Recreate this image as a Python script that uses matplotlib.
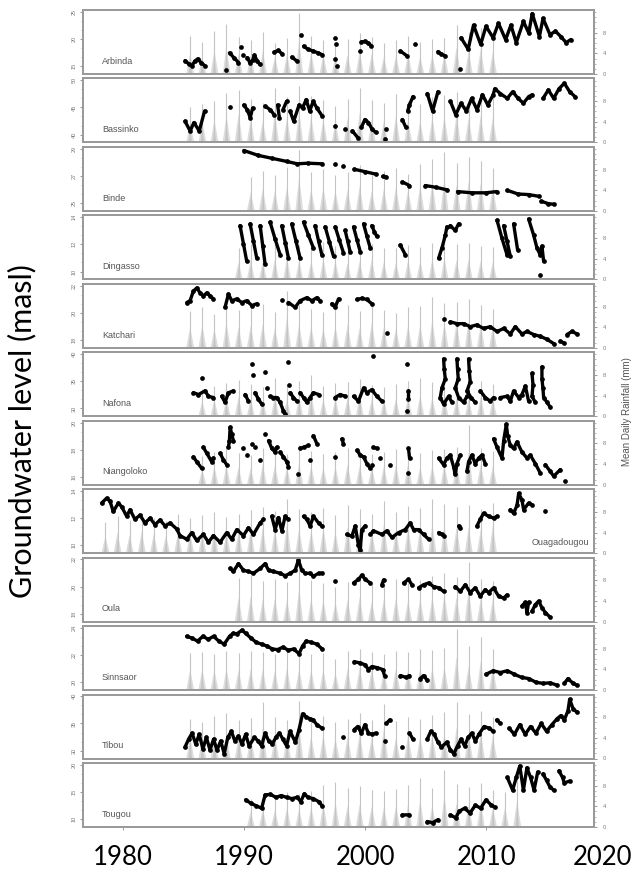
import numpy as np
import matplotlib.pyplot as plt
from matplotlib.ticker import FixedLocator, MultipleLocator
import matplotlib.transforms as mtransforms

plt.rcParams['font.family'] = ['Liberation Sans', 'DejaVu Sans']

nan = np.nan

stations = ['Arbinda', 'Bassinko', 'Binde', 'Dingasso', 'Katchari', 'Nafona',
            'Niangoloko', 'Ouagadougou', 'Oula', 'Sinnsaor', 'Tibou', 'Tougou']

# groundwater level, relative to panel range (0 = bottom, 10 = top); nan breaks a record
arbinda_yr = [1985.13, 1985.42, 1985.71, 1985.92, 1986.16, 1986.45, 1986.74, nan,
              1988.51, nan, 1988.8, 1989.16, 1989.54, nan, 1989.75, nan, 1989.9, nan,
              1990.27, 1990.5, 1990.71, 1990.86, 1991.1, 1991.3, nan,
              1992.48, 1992.83, 1993.16, nan, 1993.95, 1994.39, nan, 1994.68, nan,
              1994.92, 1995.27, 1995.71, 1996.1, 1996.45, nan,
              1997.48, nan, 1997.6, nan, 1997.55, nan, 1997.65, nan, 1999.54, nan,
              1999.69, 1999.98, 2000.27, 2000.5, nan, 2002.92, 2003.45, nan, 2004.1, nan,
              2006.01, 2006.3, 2006.6, nan, 2007.86, nan,
              2007.92, 2008.51, 2008.95, 2009.54, 2009.98, 2010.57, 2011.01, 2011.6, 2012.04, 2012.48,
              2013.07, 2013.51, 2013.8, 2014.39, 2014.69, 2015.27, 2015.71, 2016.16, 2016.6, 2016.98]
arbinda_lv = [1.9, 1.4, 1.1, 1.8, 2.2, 1.6, 1.1, nan,
              0.4, nan, 3.2, 2.4, 1.6, nan, 4.2, nan, 2.9, nan,
              2.4, 1.5, 2.0, 2.8, 1.8, 1.3, nan,
              3.3, 3.6, 3.0, nan, 2.5, 1.8, nan, 6.2, nan,
              4.3, 3.8, 3.5, 3.2, 2.9, nan,
              5.7, nan, 4.6, nan, 2.2, nan, 1.1, nan, 3.5, nan,
              5.0, 5.1, 4.8, 4.4, nan, 3.5, 2.7, nan, 4.7, nan,
              3.4, 3.0, 2.7, nan, 0.5, nan,
              5.7, 3.8, 7.8, 4.6, 7.6, 5.7, 8.1, 5.4, 7.8, 4.9,
              8.4, 6.5, 9.7, 5.9, 8.9, 6.2, 6.8, 5.9, 4.9, 5.4]

bassinko_yr = [1985.13, 1985.55, 1985.86, 1986.3, 1986.74, nan, 1988.8, nan,
               1989.98, 1990.27, 1990.51, 1990.71, nan,
               1991.74, 1992.18, 1992.48, nan, 1992.77, 1992.92, nan, 1993.21, 1993.51, nan,
               1993.8, 1994.1, 1994.54, 1994.83, 1995.13, 1995.42, 1995.71, 1996.01, 1996.45, nan,
               1997.48, nan, 1998.36, nan, 1998.95, 1999.39, nan,
               1999.69, 1999.98, 2000.27, 2000.57, 2000.86, nan, 2001.6, nan, 2001.74, nan,
               2003.07, 2003.36, nan, 2003.51, 2003.66, 2003.95, nan,
               2005.13, 2005.57, 2006.01, nan,
               2007.04, 2007.48, 2007.92, 2008.36, 2008.8, 2009.24, 2009.69, 2010.13, 2010.57, 2010.71,
               2011.16, 2011.74, 2012.18, 2012.63, 2013.07, 2013.51, 2013.8, nan,
               2014.69, 2015.13, 2015.57, 2016.01, 2016.45, 2016.89, 2017.33]
bassinko_lv = [3.2, 1.6, 3.0, 1.6, 4.9, nan, 5.5, nan,
               5.9, 5.1, 3.8, 5.4, nan,
               5.7, 5.1, 4.3, nan, 5.9, 3.8, nan, 5.1, 6.5, nan,
               4.9, 3.2, 5.9, 5.4, 6.8, 4.9, 6.5, 5.4, 4.1, nan,
               2.4, nan, 1.9, nan, 1.6, 0.5, nan,
               2.2, 3.5, 3.0, 1.9, 1.4, nan, 0.3, nan, 1.9, nan,
               3.5, 2.2, nan, 4.9, 5.9, 7.3, nan,
               7.8, 4.9, 8.1, nan,
               6.5, 4.3, 6.2, 4.9, 7.0, 5.1, 7.6, 5.9, 7.6, 8.6,
               7.8, 7.0, 8.1, 7.0, 6.2, 7.3, 7.6, nan,
               7.0, 8.4, 7.0, 8.6, 9.5, 8.1, 7.3]

binde_yr = [1989.98, 1991.16, 1992.33, 1993.51, 1994.39, 1995.27, 1996.45, nan,
            1997.48, nan, 1998.21, nan, 1999.1, 1999.98, 2000.86, nan, 2001.45, 2001.74, nan,
            2003.07, 2003.66, nan, 2004.98, 2005.86, 2006.74, nan,
            2007.63, 2008.8, 2009.98, 2010.86, nan, 2011.74, 2012.63, 2013.51, 2014.39, nan,
            2014.54, 2015.13, 2015.57]
binde_lv = [9.7, 8.9, 8.4, 7.9, 7.5, 7.6, 7.5, nan,
            7.4, nan, 7.1, nan, 6.6, 6.2, 5.8, nan, 5.4, 5.3, nan,
            4.5, 3.9, nan, 3.9, 3.6, 3.2, nan,
            2.9, 2.7, 2.7, 2.9, nan, 3.1, 2.5, 2.4, 2.1, nan,
            1.3, 0.9, 0.8]

dingasso_yr = [1989.67, 1989.95, 1990.22, nan, 1990.5, 1990.78, 1991.05, nan, 1991.33, 1991.54, 1991.74, nan,
               1992.15, 1992.56, 1992.98, nan, 1993.12, 1993.4, 1993.67, nan, 1993.94, 1994.28, 1994.63, nan,
               1994.91, 1995.32, 1995.73, nan, 1995.87, 1996.15, 1996.42, nan, 1996.7, 1997.05, 1997.39, nan,
               1997.53, 1997.87, 1998.21, nan, 1998.35, 1998.56, 1998.76, nan, 1999.04, 1999.32, 1999.59, nan,
               1999.87, 2000.15, 2000.42, nan, 2000.55, 2000.76, 2000.97, nan, 2002.9, 2003.31, nan,
               2006.07, 2006.34, 2006.62, 2006.75, nan, 2007.03, 2007.44, 2007.72, nan,
               2010.89, 2011.3, 2011.71, nan, 2011.44, 2011.72, 2011.99, nan, 2012.26, 2012.59, nan,
               2013.5, 2013.92, 2014.19, 2014.45, 2014.6, 2014.74, nan, 2014.47]
dingasso_lv = [8.6, 5.6, 2.7, nan, 8.9, 6.0, 3.2, nan, 8.6, 5.3, 2.2, nan,
               9.2, 6.4, 3.8, nan, 8.6, 5.8, 3.2, nan, 8.9, 6.1, 3.2, nan,
               9.2, 7.0, 4.9, nan, 8.6, 6.1, 3.8, nan, 8.4, 5.9, 3.5, nan,
               8.4, 6.2, 4.1, nan, 7.8, 6.0, 4.3, nan, 8.4, 6.3, 4.3, nan,
               8.9, 6.8, 4.9, nan, 8.6, 7.6, 6.8, nan, 5.4, 3.8, nan,
               3.2, 4.9, 7.0, 8.4, nan, 8.6, 7.8, 8.9, nan,
               9.5, 6.5, 3.8, nan, 8.6, 6.0, 3.5, nan, 8.9, 4.6, nan,
               9.7, 7.0, 4.9, 3.8, 5.2, 2.7, nan, 0.5]

katchari_yr = [1985.27, 1985.54, 1985.82, 1986.09, 1986.37, 1986.64, 1986.92, 1987.19, 1987.47, nan,
               1988.43, 1988.71, 1988.98, 1989.4, 1989.81, 1990.22, 1990.64, 1991.05, nan,
               1993.12, nan, 1993.67, 1994.22, 1994.63, 1995.18, 1995.6, 1996.01, 1996.28, nan,
               1997.25, 1997.52, 1997.8, nan, 1999.32, 1999.73, 2000.14, 2000.55, nan,
               2001.79, nan, 2006.48, nan,
               2007.03, 2007.58, 2008.13, 2008.68, 2009.23, 2009.78, 2010.33, 2010.89, 2011.44,
               2011.99, 2012.4, 2012.95, 2013.37, 2013.92, 2014.47, 2015.02, 2015.57, nan,
               2016.12, 2016.4, nan, 2016.67, 2017.08, 2017.5]
katchari_lv = [7.2, 7.5, 9.1, 9.6, 8.8, 8.3, 8.8, 8.3, 7.8, nan,
               6.4, 8.6, 7.5, 7.8, 7.2, 7.5, 6.7, 7.0, nan,
               7.6, nan, 7.2, 6.4, 7.5, 8.0, 7.5, 8.0, 7.5, nan,
               7.0, 6.4, 7.8, nan, 7.7, 7.9, 7.7, 7.0, nan,
               2.1, nan, 4.5, nan,
               4.0, 3.7, 3.7, 3.2, 3.5, 2.9, 3.2, 2.4, 2.9,
               2.0, 3.2, 2.0, 2.4, 1.9, 1.6, 1.1, 0.4, nan,
               0.8, 0.5, nan, 1.9, 2.4, 2.0]

nafona_yr = [1985.82, 1986.23, 1986.78, 1987.06, 1987.47, nan, 1986.51, nan,
             1988.16, 1988.43, 1988.71, 1989.12, nan, 1990.09, 1990.36, nan,
             1990.64, nan, 1990.78, nan, 1990.91, 1991.19, 1991.46, nan,
             1991.74, nan, 1991.88, nan,
             1992.15, 1992.43, 1992.7, 1992.98, 1993.25, 1993.39, nan,
             1993.67, nan, 1993.75, nan, 1993.81, 1994.08, 1994.36, nan,
             1994.63, 1994.91, 1995.18, 1995.46, 1995.73, 1996.15, nan,
             1997.52, 1997.94, 1998.35, nan,
             1999.04, 1999.45, 1999.87, 2000.14, 2000.55, 2000.97, 2001.38, nan, 2000.69, nan,
             2003.45, nan, 2003.58, 2003.58, nan, 2003.45, nan,
             2006.48, 2006.53, 2006.62, 2006.34, 2006.2, 2006.48, 2006.89, 2007.17, nan,
             2007.58, 2007.63, 2007.69, 2007.44, 2007.72, 2008.13, 2008.41, nan,
             2008.54, 2008.6, 2008.68, 2008.41, 2008.74, 2009.09, nan,
             2009.51, 2009.92, 2010.33, 2010.61, nan,
             2011.16, 2011.71, 2011.99, 2012.26, 2012.68, 2012.95, 2013.23, 2013.5, nan,
             2013.78, 2013.86, 2013.78, 2014.05, nan,
             2014.6, 2014.6, 2014.68, 2014.74, 2015.02, 2015.29]
nafona_lv = [3.6, 3.3, 3.9, 3.0, 2.8, nan, 6.0, nan,
             3.0, 2.0, 3.6, 3.9, nan, 3.3, 2.2, nan,
             8.4, nan, 6.5, nan, 3.6, 2.5, 1.7, nan,
             7.1, nan, 4.4, nan,
             3.0, 2.8, 2.8, 2.0, 0.6, 0.1, nan,
             8.7, nan, 4.9, nan, 3.6, 2.8, 2.2, nan,
             3.6, 2.8, 2.0, 2.8, 3.6, 3.3, nan,
             2.8, 3.3, 3.0, nan,
             3.0, 2.2, 4.4, 3.6, 4.1, 3.0, 2.2, nan, 9.7, nan,
             8.4, nan, 3.9, 2.5, nan, 0.6, nan,
             9.2, 7.5, 5.9, 4.4, 2.8, 1.7, 3.0, 2.0, nan,
             9.2, 7.5, 5.9, 4.4, 2.8, 2.0, 3.0, nan,
             9.2, 7.2, 5.4, 3.9, 2.8, 2.0, nan,
             3.9, 2.8, 2.2, 2.8, nan,
             2.8, 3.0, 2.2, 3.9, 2.8, 3.3, 4.7, 2.2, nan,
             6.8, 4.9, 3.0, 2.0, nan,
             7.9, 5.9, 4.4, 2.8, 2.0, 1.2]

niangoloko_yr = [1985.82, 1986.09, 1986.51, nan, 1986.64, 1986.92, 1987.33, 1987.47, nan,
                 1988.02, 1988.3, 1988.57, nan, 1988.71, 1988.79, 1988.85, 1988.98, 1989.12, nan,
                 1989.95, nan, 1990.22, nan, 1990.64, nan, 1990.91, nan, 1991.33, nan, 1991.74, nan,
                 1992.02, 1992.29, 1992.57, 1992.7, nan, 1992.98, 1993.25, 1993.53, 1993.67, nan,
                 1994.49, nan, 1994.63, 1994.91, 1995.32, nan, 1995.46, nan, 1995.73, 1996.01, nan,
                 1997.52, nan, 1998.08, 1998.21, nan,
                 1999.32, 1999.59, 1999.87, 2000.14, 2000.42, nan, 2000.55, nan, 2000.69, 2000.97, nan,
                 2001.24, nan, 2002.07, nan, 2003.58, 2003.67, nan, 2003.58, nan,
                 2006.07, 2006.48, 2006.75, 2007.03, 2007.3, 2007.44, 2007.58, 2007.86, nan,
                 2008.41, 2008.54, 2008.82, 2009.09, 2009.37, 2009.65, 2009.92, nan,
                 2010.61, 2010.89, 2011.3, 2011.44, 2011.66, 2011.77, 2011.99, 2012.26, 2012.54,
                 2012.95, 2013.37, 2013.64, 2014.05, 2014.47, nan,
                 2014.88, 2015.29, 2015.57, 2016.12, nan, 2016.53]
niangoloko_lv = [4.3, 3.5, 2.4, nan, 5.9, 4.9, 3.5, 4.1, nan,
                 4.9, 3.8, 3.0, nan, 5.9, 7.0, 9.2, 8.1, 7.0, nan,
                 5.7, nan, 4.6, nan, 6.5, nan, 5.9, nan, 3.8, nan, 8.1, nan,
                 7.0, 5.7, 5.1, 5.9, nan, 5.1, 4.3, 3.5, 2.7, nan,
                 1.4, nan, 5.7, 5.9, 6.2, nan, 3.8, nan, 7.8, 6.5, nan,
                 4.3, nan, 7.3, 6.5, nan,
                 5.4, 4.6, 4.3, 3.2, 2.4, nan, 3.0, nan, 5.9, 5.7, nan,
                 4.1, nan, 3.0, nan, 5.7, 4.1, nan, 1.6, nan,
                 4.1, 3.0, 4.1, 4.6, 2.7, 1.4, 3.2, 4.6, nan,
                 1.9, 3.5, 4.6, 3.2, 4.1, 4.6, 3.2, nan,
                 7.3, 5.9, 4.1, 7.0, 9.7, 7.8, 6.2, 5.7, 6.8,
                 5.1, 4.1, 4.6, 3.2, 1.6, nan,
                 3.0, 1.9, 1.1, 2.2, nan, 0.3]

ouaga_yr = [1978.24, 1978.65, 1978.93, 1979.2, 1979.62, 1979.89, 1980.31, 1980.58, 1980.99, 1981.41,
            1981.82, 1982.24, 1982.65, 1983.06, 1983.48, 1983.89, 1984.44, 1984.71, 1985.27, 1985.68,
            1986.09, 1986.64, 1987.06, 1987.47, 1988.02, 1988.57, 1988.98, 1989.4, 1989.95, 1990.36,
            1990.78, 1991.33, 1991.6, nan,
            1992.29, 1992.57, 1992.84, 1993.12, 1993.39, 1993.67, nan,
            1994.91, 1995.18, 1995.46, 1995.73, 1996.15, 1996.42, nan,
            1998.49, 1998.9, 1999.18, 1999.45, 1999.59, 1999.73, 2000.0, nan,
            2000.42, 2000.69, 2001.38, 2001.79, 2002.21, 2002.76, 2003.31, 2003.72, 2004.0, 2004.41,
            2004.82, 2005.24, nan, 2006.07, 2006.34, 2006.48, nan, 2007.72, 2007.86, nan,
            2009.23, 2009.51, 2009.78, 2010.2, 2010.61, 2010.89, nan,
            2011.99, 2012.26, 2012.54, 2012.68, 2012.95, 2013.09, 2013.5, 2013.78, nan, 2014.88]
ouaga_lv = [8.0, 8.8, 8.3, 6.6, 8.0, 7.4, 5.8, 6.9, 5.3, 6.0,
            4.7, 5.5, 4.4, 5.2, 4.2, 4.7, 3.7, 2.6, 2.0, 3.1,
            1.8, 2.8, 1.5, 2.6, 1.5, 3.1, 2.0, 3.6, 2.6, 3.9,
            2.8, 4.7, 5.3, nan,
            5.8, 3.6, 5.6, 3.4, 5.8, 5.3, nan,
            5.8, 5.3, 4.2, 5.8, 4.7, 4.2, nan,
            2.8, 2.5, 4.2, 1.0, 0.2, 3.6, 4.2, nan,
            2.8, 3.4, 2.8, 3.4, 2.3, 3.1, 3.6, 4.7, 3.6, 3.6,
            2.8, 2.0, nan, 3.1, 2.8, 2.6, nan, 4.2, 3.9, nan,
            4.2, 5.3, 6.3, 5.8, 5.5, 5.8, nan,
            6.9, 6.3, 7.6, 9.6, 8.5, 6.9, 8.0, 7.7, nan, 6.6]

oula_yr = [1988.85, 1989.12, 1989.54, 1989.95, 1990.36, 1990.78, 1991.33, 1991.74, 1992.02, 1992.43,
           1992.98, 1993.39, 1993.81, 1994.22, 1994.49, 1994.77, 1995.05, 1995.46, 1995.73, 1996.15,
           1996.42, nan, 1997.52, nan,
           1999.04, 1999.45, 1999.73, 2000.0, 2000.42, nan, 2001.38, 2001.52, nan,
           2003.17, 2003.58, 2003.86, nan,
           2004.41, 2004.82, 2005.24, 2005.65, 2006.07, 2006.48, nan,
           2007.44, 2007.86, 2008.27, 2008.68, 2009.09, 2009.51, 2009.92, 2010.2, 2010.61, 2011.02,
           2011.44, 2011.71, nan,
           2012.95, 2013.23, 2013.37, 2013.5, nan,
           2013.78, 2014.05, 2014.33, 2014.6, 2014.88, 2015.29]
oula_lv = [8.5, 8.0, 9.3, 8.2, 8.0, 7.7, 8.5, 9.3, 8.2, 8.0,
           7.7, 7.3, 7.7, 8.2, 9.9, 8.2, 7.7, 7.7, 7.2, 7.7,
           7.7, nan, 6.4, nan,
           6.1, 6.7, 7.4, 6.7, 6.1, nan, 5.8, 6.6, nan,
           6.1, 6.7, 5.8, nan,
           5.3, 5.8, 6.1, 5.5, 5.3, 4.7, nan,
           5.5, 4.7, 5.8, 4.5, 5.3, 3.9, 5.0, 4.5, 5.3, 3.9,
           3.6, 4.1, nan,
           2.3, 2.9, 1.2, 2.9, nan,
           1.4, 2.5, 3.1, 2.0, 1.2, 0.4]

sinnsaor_yr = [1985.27, 1985.71, 1986.16, 1986.6, 1987.04, 1987.48, 1987.92, 1988.36, 1988.8, 1989.1,
               1989.39, 1989.83, 1990.13, 1990.57, 1991.01, 1991.45, 1991.89, 1992.33, 1992.77, 1993.21,
               1993.66, 1994.1, 1994.54, 1994.83, 1995.13, 1995.57, 1996.01, 1996.45, nan,
               1999.1, 1999.54, 1999.98, 2000.27, 2000.57, 2001.01, 2001.45, 2001.6, nan,
               2002.92, 2003.36, 2003.66, nan, 2004.54, 2004.83, 2005.13, nan,
               2009.98, 2010.57, 2011.16, 2011.74, 2012.33, 2012.92, 2013.51, 2014.1, 2014.69, 2015.27,
               2015.86, nan, 2016.45, 2016.75, 2017.18, 2017.48]
sinnsaor_lv = [8.6, 8.3, 7.8, 8.6, 8.1, 8.6, 7.8, 7.3, 8.6, 9.1,
               9.0, 9.6, 9.1, 8.3, 7.6, 7.3, 7.0, 6.5, 6.4, 6.8,
               6.3, 6.5, 5.7, 7.0, 7.8, 7.6, 7.3, 6.5, nan,
               4.4, 4.2, 3.9, 3.1, 3.6, 3.4, 3.1, 2.1, nan,
               2.1, 1.8, 2.1, nan, 1.6, 2.1, 1.3, nan,
               2.3, 2.9, 2.6, 2.9, 2.3, 1.8, 1.6, 1.0, 0.8, 0.9,
               0.5, nan, 0.8, 1.6, 0.8, 0.5]

tibou_yr = [1985.13, 1985.42, 1985.71, 1986.01, 1986.3, 1986.6, 1986.89, 1987.19, 1987.48, 1987.77,
            1988.07, 1988.36, 1988.66, 1988.95, 1989.24, 1989.54, 1989.83, 1990.13, 1990.42, 1990.86,
            1991.16, 1991.45, 1991.74, 1992.04, 1992.33, 1992.63, 1992.92, 1993.21, 1993.51, 1993.8,
            1994.24, 1994.54, 1994.83, 1995.13, 1995.42, 1995.71, 1996.01, 1996.45, nan,
            1998.21, nan, 1999.1, 1999.39, 1999.69, 1999.98, 2000.27, 2000.57, 2000.86, nan,
            2001.6, nan, 2001.74, 2002.04, nan, 2003.07, nan, 2003.66, 2003.95, nan,
            2005.13, 2005.42, 2005.71, 2006.01, 2006.3, 2006.74, 2007.04, 2007.33, 2007.63, 2007.92,
            2008.21, 2008.51, 2008.8, 2009.1, 2009.39, 2009.83, 2010.27, 2010.57, nan,
            2010.86, 2011.16, nan,
            2011.89, 2012.33, 2012.77, 2013.22, 2013.66, 2014.1, 2014.54, 2014.98, 2015.42, 2015.86,
            2016.16, 2016.45, 2016.75, 2016.89, 2017.18, 2017.48]
tibou_lv = [1.6, 2.9, 3.9, 2.1, 3.7, 1.3, 3.2, 1.1, 2.9, 1.1,
            2.6, 0.5, 3.2, 4.2, 2.6, 3.4, 2.1, 3.7, 1.8, 3.2,
            2.6, 1.8, 3.9, 2.6, 2.1, 3.2, 3.9, 2.9, 1.8, 4.2,
            2.4, 4.5, 7.1, 6.6, 6.3, 6.1, 5.3, 4.7, nan,
            3.2, nan, 4.5, 5.0, 3.9, 5.3, 3.9, 3.7, 3.9, nan,
            2.6, nan, 5.5, 6.1, nan, 1.6, nan, 3.9, 2.9, nan,
            2.9, 4.2, 3.7, 2.4, 1.6, 2.4, 1.1, 0.5, 1.8, 2.9,
            1.8, 3.2, 3.9, 2.6, 3.7, 5.0, 4.7, 4.2, nan,
            6.1, 5.5, nan,
            4.7, 3.7, 5.3, 3.7, 5.0, 3.9, 5.5, 4.2, 5.3, 6.3,
            6.8, 6.1, 7.6, 9.5, 7.9, 7.4]

tougou_yr = [1990.13, 1990.57, 1991.01, 1991.45, 1991.74, 1992.18, 1992.63, 1993.07, 1993.51, 1993.95,
             1994.39, 1994.68, 1994.98, 1995.27, 1995.71, 1996.16, 1996.45, nan,
             2003.07, 2003.66, nan, 2005.13, 2005.57, 2006.01, nan,
             2007.04, 2007.48, 2007.77, 2008.21, 2008.66, 2009.1, 2009.54, 2009.98, 2010.42, 2010.71, nan,
             2011.74, 2012.18, 2012.48, 2012.77, 2013.07, 2013.36, 2013.66, 2013.95, 2014.25, nan,
             2014.69, 2014.98, 2015.27, 2015.57, nan, 2016.01, 2016.3, 2016.45, 2016.89]
tougou_lv = [4.2, 3.6, 3.2, 2.8, 5.0, 5.1, 4.6, 4.9, 4.6, 4.4,
             4.6, 3.9, 5.2, 4.6, 4.4, 3.9, 3.2, nan,
             1.7, 1.7, nan, 0.6, 0.4, 0.9, nan,
             1.7, 1.2, 2.3, 2.8, 2.0, 3.3, 2.8, 4.2, 3.3, 3.0, nan,
             7.9, 5.8, 7.9, 9.8, 5.8, 9.5, 7.9, 5.8, 8.8, nan,
             8.5, 7.4, 6.3, 5.8, nan, 9.0, 7.9, 7.0, 7.3]

gw_years = [arbinda_yr, bassinko_yr, binde_yr, dingasso_yr, katchari_yr, nafona_yr,
            niangoloko_yr, ouaga_yr, oula_yr, sinnsaor_yr, tibou_yr, tougou_yr]
gw_levels = [arbinda_lv, bassinko_lv, binde_lv, dingasso_lv, katchari_lv, nafona_lv,
             niangoloko_lv, ouaga_lv, oula_lv, sinnsaor_lv, tibou_lv, tougou_lv]

# rainy season peaks (mean daily rainfall, mm), one per year from rain_start
rain_start = [1985, 1985, 1990, 1989, 1985, 1986, 1986, 1978, 1989, 1985, 1985, 1990]
rain_peaks = [
    [7.4, 6.2, 8.3, 9.6, 7.1, 6.5, 8.2, 6.0, 7.0, 11.8, 7.3, 6.6, 6.1, 6.7, 8.0, 7.2, 6.1, 6.5, 7.3, 6.2,
     6.8, 7.0, 9.5, 8.1, 8.9, 7.8],
    [6.8, 7.5, 8.0, 9.5, 10.2, 8.4, 7.6, 10.5, 8.8, 10.9, 9.0, 8.2, 7.0, 8.5, 10.5, 8.3, 7.6, 9.4, 8.0, 7.4,
     8.8, 9.2, 9.8, 8.6, 9.5, 8.9],
    [6.5, 7.8, 7.0, 8.5, 11.8, 7.6, 8.2, 6.9, 7.5, 8.8, 7.0, 7.8, 8.4, 7.2, 9.0, 10.1, 11.5, 9.2, 10.4, 9.6,
     8.3],
    [6.0, 6.8, 6.2, 7.0, 7.5, 6.6, 6.3, 7.2, 6.5, 5.8, 6.4, 6.9, 6.1, 6.0, 6.7, 6.3, 7.0, 7.4, 6.8, 7.1,
     6.5, 6.2],
    [7.2, 8.0, 6.5, 9.0, 7.4, 7.8, 8.5, 7.0, 11.0, 8.2, 7.5, 6.9, 7.6, 8.3, 7.1, 8.8, 7.4, 6.8, 7.9, 8.1,
     9.8, 8.6, 8.9, 9.5, 8.2, 7.6],
    [5.2, 5.8, 6.5, 7.0, 6.2, 5.6, 7.4, 6.0, 6.8, 7.9, 5.9, 6.4, 6.6, 7.2, 6.1, 5.7, 6.3, 6.9, 7.5, 6.6,
     7.1, 6.4, 6.0, 6.8, 6.2],
    [5.5, 6.4, 7.0, 6.2, 5.8, 7.2, 6.8, 6.0, 7.6, 6.5, 5.9, 6.3, 7.1, 6.6, 6.0, 6.4, 6.9, 7.3, 6.1, 6.7,
     7.0, 7.3, 11.5, 7.2, 6.5],
    [6.0, 7.2, 6.5, 7.8, 6.8, 6.2, 7.5, 6.9, 7.3, 8.0, 7.1, 7.6, 8.4, 9.0, 8.2, 10.5, 8.6, 7.9, 8.8, 7.4,
     9.3, 8.5, 7.6, 10.2, 8.0, 9.1, 8.7, 10.4, 9.6, 8.9, 9.4, 8.5, 9.8],
    [8.5, 9.0, 7.8, 8.2, 7.6, 11.8, 8.0, 7.4, 6.8, 7.7, 8.6, 7.2, 7.9, 8.3, 7.5, 8.1, 8.8, 9.4, 8.6, 11.5,
     8.2, 7.9],
    [7.2, 7.4, 7.0, 7.6, 7.1, 7.5, 7.3, 6.9, 7.8, 7.4, 7.0, 7.2, 6.0, 7.5, 7.9, 7.4, 7.0, 7.6, 7.3, 8.0,
     7.7, 8.2, 11.8, 8.5, 10.2, 8.0],
    [7.6, 7.0, 8.2, 8.8, 7.5, 7.9, 10.9, 8.0, 7.4, 11.2, 7.8, 8.3, 7.0, 7.6, 8.9, 7.5, 10.6, 7.2, 8.1, 7.7,
     8.4, 9.0, 11.0, 8.6, 9.2, 8.0],
    [5.5, 6.2, 6.0, 6.8, 6.4, 7.0, 8.2, 8.8, 7.5, 8.0, 7.2, 6.9, 7.4, 8.1, 9.5, 7.6, 11.0, 8.3, 7.8, 8.5,
     7.1, 6.8, 9.2],
]

# tick labels of the groundwater axis (bottom, middle, top)
level_labels = [['15', '20', '25'], ['40', '45', '50'], ['25', '27', '29'], ['10', '12', '14'],
                ['18', '20', '22'], ['30', '35', '40'], ['16', '18', '20'], ['10', '12', '14'],
                ['18', '20', '22'], ['20', '22', '24'], ['30', '35', '40'], ['10', '15', '20']]
rain_labels = ['0', '4', '8']
decades = [1980, 1990, 2000, 2010, 2020]

W, H = 636, 877
fig = plt.figure(figsize=(W / 100, H / 100), dpi=100)

grey = '#9a9a9a'
for i, name in enumerate(stations):
    top = 10 + i * 68.45
    ax = fig.add_axes([83 / W, 1 - (top + 64) / H, 511 / W, 64 / H])
    axr = ax.twinx()
    ax.set_zorder(axr.get_zorder() + 1)
    ax.patch.set_visible(False)

    # rainfall humps behind the levels
    for k, p in enumerate(rain_peaks[i]):
        x = rain_start[i] + k + 0.55
        axr.fill([x - 0.32, x, x + 0.34], [0, p * 0.55, 0], color='#dddddd', lw=0)
        axr.fill([x - 0.14, x, x + 0.16], [0, p * 0.4, 0], color='#cacaca', lw=0)
        axr.vlines(x, 0, p, color='#c4c4c4', lw=0.8)
    axr.set_ylim(0, 12.4)
    axr.set_yticks([0, 4, 8])
    axr.set_yticklabels(rain_labels, fontsize=4, color='#777777')
    axr.yaxis.set_minor_locator(MultipleLocator(1))
    axr.tick_params(axis='y', which='major', length=2.5, width=0.6, color='#888888', pad=4)
    axr.tick_params(axis='y', which='minor', length=1.5, width=0.5, color='#999999')

    ax.plot(gw_years[i], gw_levels[i], color='black', lw=2.4, marker='o', ms=3.4,
            mew=0, solid_joinstyle='round', solid_capstyle='round')
    ax.set_ylim(-0.3, 10.3)
    ax.set_yticks([1, 5.5, 10])
    ax.set_yticklabels(level_labels[i], fontsize=4, color='#777777', rotation=90, va='center')
    ax.yaxis.set_minor_locator(FixedLocator([2.5, 4, 7, 8.5]))
    ax.tick_params(axis='y', which='major', length=2.5, width=0.6, color='#888888', pad=2)
    ax.tick_params(axis='y', which='minor', length=1.5, width=0.5, color='#999999')
    ax.set_xlim(1976.7, 2018.9)

    for a in (ax, axr):
        for s in a.spines.values():
            s.set_color(grey)
            s.set_linewidth(1.3)

    if name == 'Ouagadougou':
        ax.text(0.99, 0.17, name, transform=ax.transAxes, ha='right', va='center',
                fontsize=6.5, color='#555555')
    else:
        ax.text(0.037, 0.2, name, transform=ax.transAxes, ha='left', va='center',
                fontsize=6.5, color='#555555')

    if i == len(stations) - 1:
        ax.set_xticks(decades[:-1])
        ax.tick_params(axis='x', length=2.5, width=0.6, color='#888888', labelbottom=False)
        trans = mtransforms.blended_transform_factory(ax.transData, ax.transAxes)
        for d in decades:
            # last label sits just past the frame, kept inside the figure
            xpos = min(d, 2019.6)
            ax.text(xpos, -0.47, str(d), transform=trans, ha='center', va='center',
                    fontsize=18.5, family='Lato', clip_on=False)
    else:
        ax.set_xticks([])

fig.text(22 / W, 1 - 431 / H, 'Groundwater level (masl)', rotation=90, ha='center', va='center',
         fontsize=22, family='Lato')
fig.text(627 / W, 1 - 412 / H, 'Mean Daily Rainfall (mm)', rotation=90, ha='center', va='center',
         fontsize=7, color='#555555')

fig.savefig('out.png', dpi=100)
